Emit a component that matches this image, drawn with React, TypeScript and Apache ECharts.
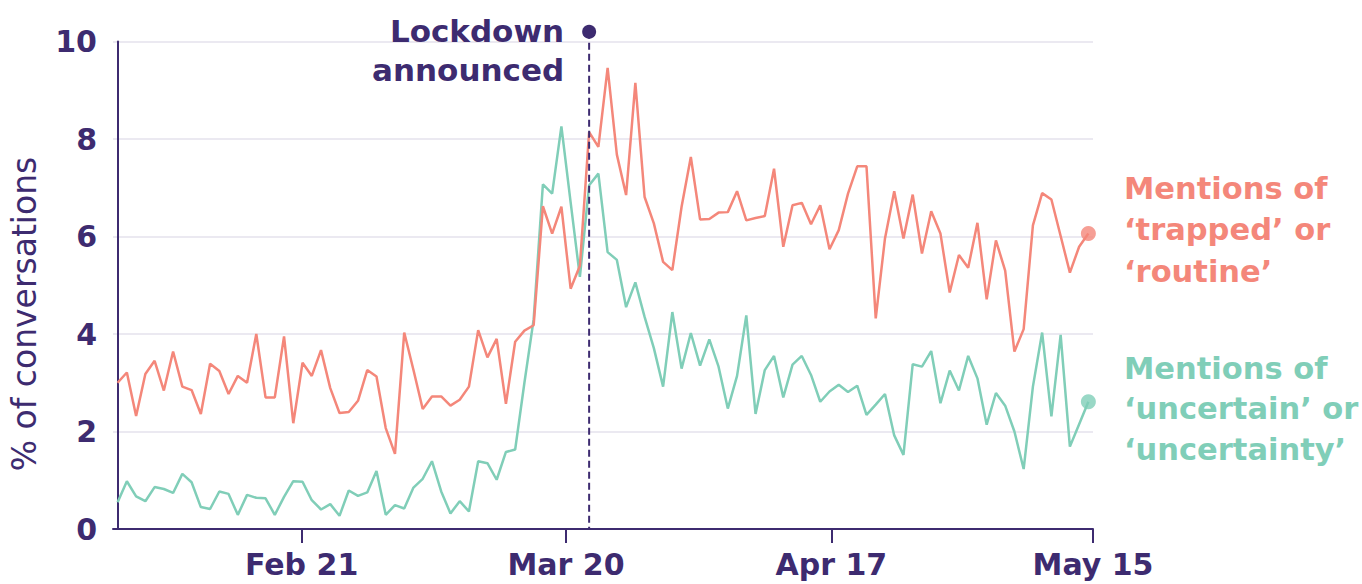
import React, { useEffect, useRef } from 'react';
import * as echarts from 'echarts';

// Share of conversations (%) per day, index 0 = first day
const TRAPPED_ROUTINE = [
  3.00, 3.21, 2.32, 3.18, 3.45, 2.84, 3.64, 2.92, 2.85, 2.36,
  3.39, 3.24, 2.77, 3.14, 3.00, 4.00, 2.70, 2.70, 3.95, 2.17,
  3.41, 3.14, 3.67, 2.89, 2.38, 2.40, 2.63, 3.26, 3.13, 2.07,
  1.54, 4.03, 3.26, 2.46, 2.72, 2.72, 2.53, 2.65, 2.92, 4.08,
  3.52, 3.90, 2.57, 3.84, 4.07, 4.18, 6.62, 6.06, 6.61, 4.93,
  5.40, 8.14, 7.84, 9.46, 7.68, 6.85, 9.15, 6.81, 6.27, 5.48,
  5.31, 6.61, 7.63, 6.35, 6.36, 6.49, 6.50, 6.93, 6.33, 6.38,
  6.42, 7.39, 5.79, 6.64, 6.69, 6.25, 6.64, 5.74, 6.13, 6.88,
  7.44, 7.44, 4.32, 5.96, 6.93, 5.96, 6.86, 5.65, 6.52, 6.06,
  4.85, 5.62, 5.36, 6.28, 4.71, 5.92, 5.30, 3.64, 4.10, 6.23,
  6.89, 6.76, 6.01, 5.26, 5.79, 6.06,
];

const UNCERTAIN = [
  0.55, 0.98, 0.67, 0.57, 0.86, 0.82, 0.74, 1.13, 0.96, 0.45,
  0.41, 0.77, 0.72, 0.29, 0.70, 0.64, 0.63, 0.29, 0.66, 0.98,
  0.97, 0.59, 0.40, 0.51, 0.27, 0.79, 0.68, 0.75, 1.19, 0.29,
  0.49, 0.42, 0.85, 1.03, 1.39, 0.77, 0.32, 0.57, 0.36, 1.39,
  1.35, 1.01, 1.58, 1.63, 3.00, 4.30, 7.07, 6.88, 8.26, 6.70,
  5.17, 7.05, 7.29, 5.68, 5.52, 4.55, 5.06, 4.35, 3.71, 2.92,
  4.45, 3.29, 4.02, 3.35, 3.89, 3.33, 2.47, 3.14, 4.38, 2.36,
  3.26, 3.55, 2.70, 3.37, 3.55, 3.16, 2.61, 2.82, 2.96, 2.81,
  2.94, 2.34, 2.55, 2.77, 1.92, 1.52, 3.38, 3.33, 3.65, 2.58,
  3.25, 2.84, 3.55, 3.09, 2.14, 2.79, 2.53, 2.00, 1.23, 2.92,
  4.03, 2.31, 3.98, 1.69, 2.15, 2.61,
];

const X_TICK_LABELS = ['Feb 21', 'Mar 20', 'Apr 17', 'May 15'];
const X_TICK_DAYS = [19.9, 48.5, 77.2, 105.5];
const LOCKDOWN_DAY = 51;
const LOCKDOWN_LABEL = ['Lockdown', 'announced'];
const RED_LABEL = ['Mentions of', '‘trapped’ or', '‘routine’'];
const GREEN_LABEL = ['Mentions of', '‘uncertain’ or', '‘uncertainty’'];
const Y_TITLE = '% of conversations';

const PURPLE = '#3d2b70';
const RED = '#f4877a';
const GREEN = '#80ceb8';
const GRID = '#ebe9f1';
const FONT = 'DejaVu Sans';

export default function App() {
  const ref = useRef<HTMLDivElement>(null);

  useEffect(() => {
    const chart = echarts.init(ref.current!, null, { renderer: 'svg' });
    const pairs = (arr: number[]) => arr.map((v, i) => [i, v]);
    const lastR = TRAPPED_ROUTINE.length - 1;
    const lastG = UNCERTAIN.length - 1;

    chart.setOption({
      animation: false,
      grid: { left: 113, right: 269, top: 41.5, bottom: 55, containLabel: false },
      xAxis: {
        type: 'value',
        min: -0.5,
        max: TRAPPED_ROUTINE.length - 0.5,
        axisLine: { show: true, lineStyle: { color: PURPLE, width: 2 } },
        axisTick: {
          show: true,
          length: 14,
          customValues: X_TICK_DAYS,
          lineStyle: { color: PURPLE, width: 2 },
        },
        axisLabel: {
          customValues: X_TICK_DAYS,
          formatter: (v: number) => {
            const k = X_TICK_DAYS.findIndex((d) => Math.abs(d - v) < 0.01);
            return k >= 0 ? X_TICK_LABELS[k] : '';
          },
          color: PURPLE,
          fontFamily: FONT,
          fontWeight: 'bold',
          fontSize: 30,
          margin: 20,
        },
        splitLine: { show: false },
      },
      yAxis: {
        type: 'value',
        min: 0,
        max: 10,
        interval: 2,
        axisLine: { show: true, lineStyle: { color: PURPLE, width: 2 } },
        axisTick: { show: false },
        axisLabel: {
          color: PURPLE,
          fontFamily: FONT,
          fontWeight: 'bold',
          fontSize: 30,
          margin: 16,
        },
        splitLine: { show: true, lineStyle: { color: GRID, width: 2 } },
      },
      series: [
        {
          type: 'line',
          data: pairs(UNCERTAIN),
          showSymbol: false,
          lineStyle: { color: GREEN, width: 2.5 },
          z: 2,
        },
        {
          type: 'line',
          data: pairs(TRAPPED_ROUTINE),
          showSymbol: false,
          lineStyle: { color: RED, width: 2.5 },
          z: 3,
        },
        {
          type: 'scatter',
          data: [[lastR, TRAPPED_ROUTINE[lastR]]],
          symbolSize: 15,
          itemStyle: { color: RED },
          z: 4,
        },
        {
          type: 'scatter',
          data: [[lastG, UNCERTAIN[lastG]]],
          symbolSize: 15,
          itemStyle: { color: GREEN },
          z: 4,
        },
      ],
    });

    const [lx, lyBottom] = chart.convertToPixel({ gridIndex: 0 }, [LOCKDOWN_DAY, 0]);
    const [, lyTop] = chart.convertToPixel({ gridIndex: 0 }, [LOCKDOWN_DAY, 10.2]);

    const textStyle = (text: string, fill: string, size: number, weight: string, align: string) => ({
      text,
      fill,
      fontFamily: FONT,
      fontSize: size,
      fontWeight: weight,
      align,
      verticalAlign: 'middle',
    });

    const graphics: any[] = [
      {
        type: 'line',
        shape: { x1: lx, y1: lyTop, x2: lx, y2: lyBottom },
        style: { stroke: PURPLE, lineWidth: 2, lineDash: [7, 4] },
        z: 10,
      },
      {
        type: 'circle',
        shape: { cx: lx, cy: lyTop, r: 7 },
        style: { fill: PURPLE },
        z: 10,
      },
      {
        type: 'text',
        x: 24,
        y: 314,
        rotation: Math.PI / 2,
        style: textStyle(Y_TITLE, PURPLE, 33, 'normal', 'center'),
        z: 10,
      },
    ];
    LOCKDOWN_LABEL.forEach((t, k) => {
      graphics.push({
        type: 'text',
        x: lx - 25,
        y: 31 + k * 39,
        style: textStyle(t, PURPLE, 31, 'bold', 'right'),
        z: 10,
      });
    });
    RED_LABEL.forEach((t, k) => {
      graphics.push({
        type: 'text',
        x: 1124,
        y: 188 + k * 41.7,
        style: textStyle(t, RED, 30.5, 'bold', 'left'),
        z: 10,
      });
    });
    GREEN_LABEL.forEach((t, k) => {
      graphics.push({
        type: 'text',
        x: 1124,
        y: 368 + k * 40.5,
        style: textStyle(t, GREEN, 30.5, 'bold', 'left'),
        z: 10,
      });
    });
    chart.setOption({ graphic: graphics });

    return () => chart.dispose();
  }, []);

  return (
    <div
      ref={ref}
      style={{ position: 'absolute', left: 0, top: 0, width: 1362, height: 584 }}
    />
  );
}
